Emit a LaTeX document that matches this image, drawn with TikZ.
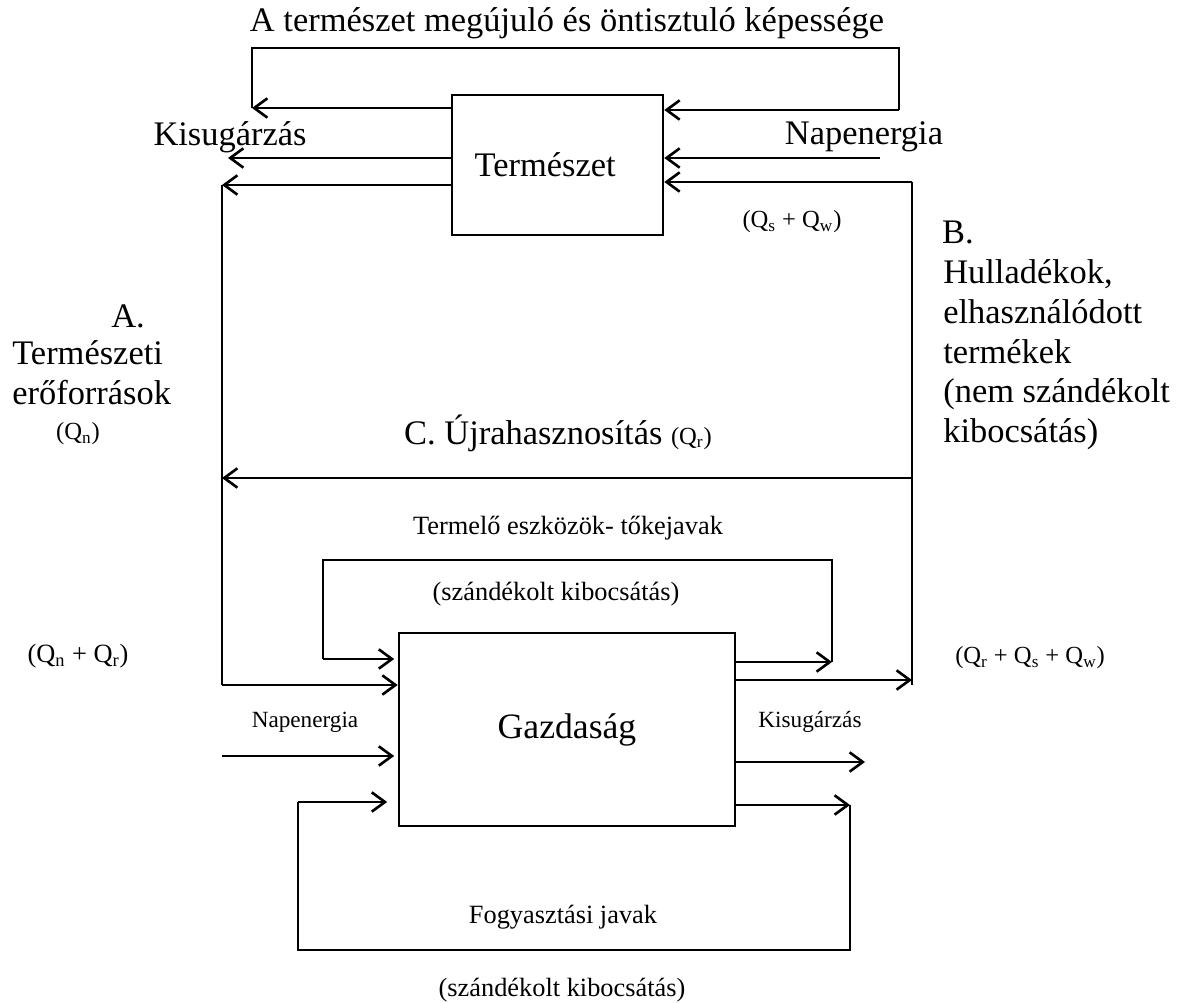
\documentclass[tikz,border=0pt]{standalone}
\usepackage{fontspec}
\setmainfont{Liberation Serif}
\usetikzlibrary{arrows.meta,positioning}

\begin{document}
\begin{tikzpicture}[
			x = 0.02cm, y = -0.02cm,
			line width = 1.5pt,
			>={Straight Barb[length=7.5pt,width=11pt]},
			box/.style = {draw, inner sep=0pt},
			big/.style = {font=\fontsize{19.6}{22.7}\selectfont},
			small/.style = {font=\fontsize{15}{18}\selectfont},
			tiny/.style = {font=\fontsize{14}{17}\selectfont},
			label/.style = {font=\fontsize{13.2}{16}\selectfont}
			]
			\useasboundingbox (0,0) rectangle (1177,1003);

			% dobozok
			\node[box, minimum width=4.22cm, minimum height=2.8cm, big] (termeszet) at (557.5,165) {\hspace*{-14pt}\raisebox{-5pt}{Természet}};
			\node[box, minimum width=6.72cm, minimum height=3.86cm, font=\fontsize{20.3}{24}\selectfont] (gazdasag) at (567,729.5) {Gazdaság};

			% pontok
			\coordinate (tl) at (252,48);
			\coordinate (tr) at (899,48);
			\coordinate (tlend) at (252,108);
			\coordinate (trend) at (899,110);
			\coordinate (kis1) at (228,158);
			\coordinate (Atop) at (222,185);
			\coordinate (Abot) at (222,685);
			\coordinate (nap) at (880,158);
			\coordinate (Btop) at (912,182);
			\coordinate (Bbot) at (912,685);
			\coordinate (Bin) at (912,680);
			\coordinate (Cstart) at (912,478);
			\coordinate (Cend) at (222,478);
			\coordinate (t1) at (323,560);
			\coordinate (t2) at (832,560);
			\coordinate (t1b) at (323,659);
			\coordinate (t2b) at (832,662);
			\coordinate (napin) at (222,756);
			\coordinate (kisout) at (865,762);
			\coordinate (f1) at (850,805);
			\coordinate (f2) at (850,950);
			\coordinate (f3) at (298,950);
			\coordinate (f4) at (298,802);

			% termeszet korul
			\draw[->] (termeszet.west |- tlend) -- (tlend);
			\draw (tlend) -- (tl) -- (tr) -- (trend);
			\draw[->] (trend) -- (termeszet.east |- trend);
			\draw[->] (termeszet.west |- kis1) -- (kis1);
			\draw[->] (termeszet.west |- Atop) -- (Atop);
			\draw[->] (nap) -- (termeszet.east |- nap);
			\draw[->] (Btop) -- (termeszet.east |- Btop);

			% nagy hurok
			\draw (Atop) -- (Abot);
			\draw[->] (Abot) -- (gazdasag.west |- Abot);
			\draw (Btop) -- (Bbot);
			\draw[->] (gazdasag.east |- Bin) -- (Bin);
			\draw[->] (Cstart) -- (Cend);

			% tokejavak
			\draw[->] (gazdasag.east |- t2b) -- (t2b);
			\draw (t2b) -- (t2) -- (t1) -- (t1b);
			\draw[->,shorten >=2pt] (t1b) -- (gazdasag.west |- t1b);

			% napenergia, kisugarzas
			\draw[->,shorten >=2pt] (napin) -- (gazdasag.west |- napin);
			\draw[->] (gazdasag.east |- kisout) -- (kisout);

			% fogyasztasi javak
			\draw[->] (gazdasag.east |- f1) -- (f1);
			\draw (f1) -- (f2) -- (f3) -- (f4);
			\draw[->,shorten >=6pt] (f4) -- (gazdasag.west |- f4);

			% feliratok
			\node[big] (cim) at (567,23) {A természet megújuló és öntisztuló képessége};
			\node[big] (kisfelso) at (230,137) {Kisugárzás};
			\node[big] (napfelso) at (864,137) {Napenergia};
			\node[tiny] (qsqw) at (792,222) {(Q\textsubscript{s} + Q\textsubscript{w})};
			\node[big] (bbetu) at (958,232) {B.};
			\node[big, align=left, anchor=north west, inner sep=0pt] (hulladek) at (942,258) {Hulladékok,\\elhasználódott\\termékek\\(nem szándékolt\\kibocsátás)};
			\node[big] (abetu) at (128,316) {A.};
			\node[big, align=left, anchor=north west, inner sep=0pt] (eroforras) at (11,339) {Természeti\\erőforrások};
			\node[tiny] (qn) at (78,434) {(Q\textsubscript{n})};
			\node[big] (ujra) at (558,433) {C. Újrahasznosítás {\fontsize{14}{17}\selectfont(Q\textsubscript{r})}};
			\node[small] (tokejavak) at (568,528) {Termelő eszközök- tőkejavak};
			\node[small] (szand1) at (556,594) {(szándékolt kibocsátás)};
			\node[font=\fontsize{15}{18}\selectfont] (qnqr) at (78,656) {(Q\textsubscript{n} + Q\textsubscript{r})};
			\node[tiny] (qrqsqw) at (1030,658) {(Q\textsubscript{r} + Q\textsubscript{s} + Q\textsubscript{w})};
			\node[label] (napalso) at (305,722) {Napenergia};
			\node[label] (kisalso) at (810,722) {Kisugárzás};
			\node[small] (fogyasztasi) at (563,917) {Fogyasztási javak};
			\node[small] (szand2) at (562,990) {(szándékolt kibocsátás)};

		\end{tikzpicture}
\end{document}
